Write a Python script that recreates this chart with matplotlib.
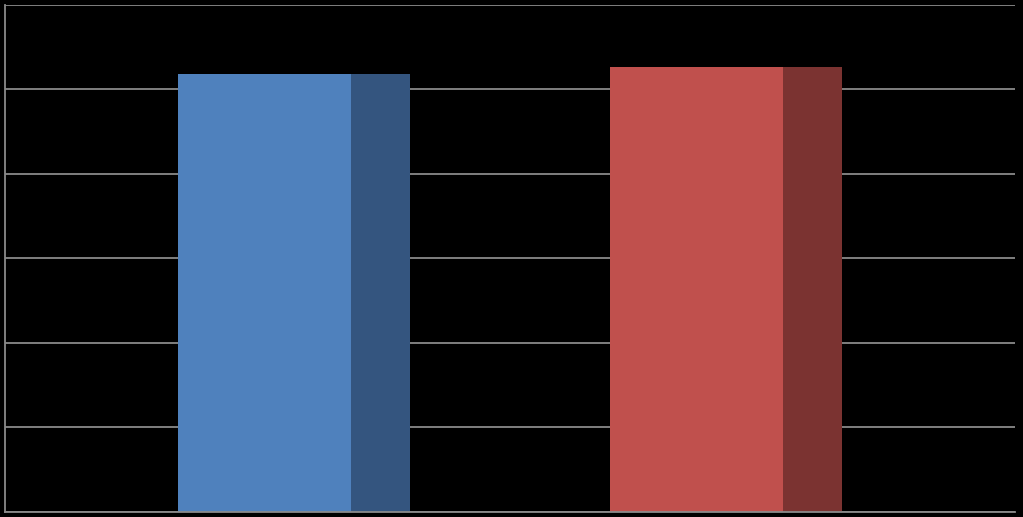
import matplotlib
matplotlib.use("Agg")
import matplotlib.pyplot as plt

categories = ["A", "B"]
values = [5.18, 5.26]
front_colors = ["#4F81BD", "#C0504D"]
side_colors = ["#34557F", "#7B3331"]

fig = plt.figure(figsize=(10.23, 5.17), dpi=100, facecolor="black")
ax = fig.add_axes([5 / 1023, 5 / 517, 1010 / 1023, 507.5 / 517])
ax.set_facecolor("black")

front_w = 0.40
side_w = 0.137
x = range(len(categories))
lefts = [i - (front_w + side_w) / 2 for i in x]
ax.bar(lefts, values, width=front_w, align="edge", color=front_colors, zorder=2)
ax.bar([l + front_w for l in lefts], values, width=side_w, align="edge",
       color=side_colors, zorder=2)

ax.set_xlim(-0.669, 1.669)
ax.set_ylim(0, 6)
ax.set_yticks(range(0, 7))
ax.yaxis.grid(True, color="#8a8a8a", linewidth=1.3, zorder=0)
ax.set_axisbelow(True)
ax.tick_params(left=False, bottom=False, labelleft=False, labelbottom=False)
for s in ["top", "right"]:
    ax.spines[s].set_visible(False)
ax.spines["left"].set_color("#8a8a8a")
ax.spines["left"].set_linewidth(1.3)
ax.spines["bottom"].set_color("#8a8a8a")
ax.spines["bottom"].set_linewidth(1.3)

fig.savefig("out.png", dpi=100, facecolor="black")
